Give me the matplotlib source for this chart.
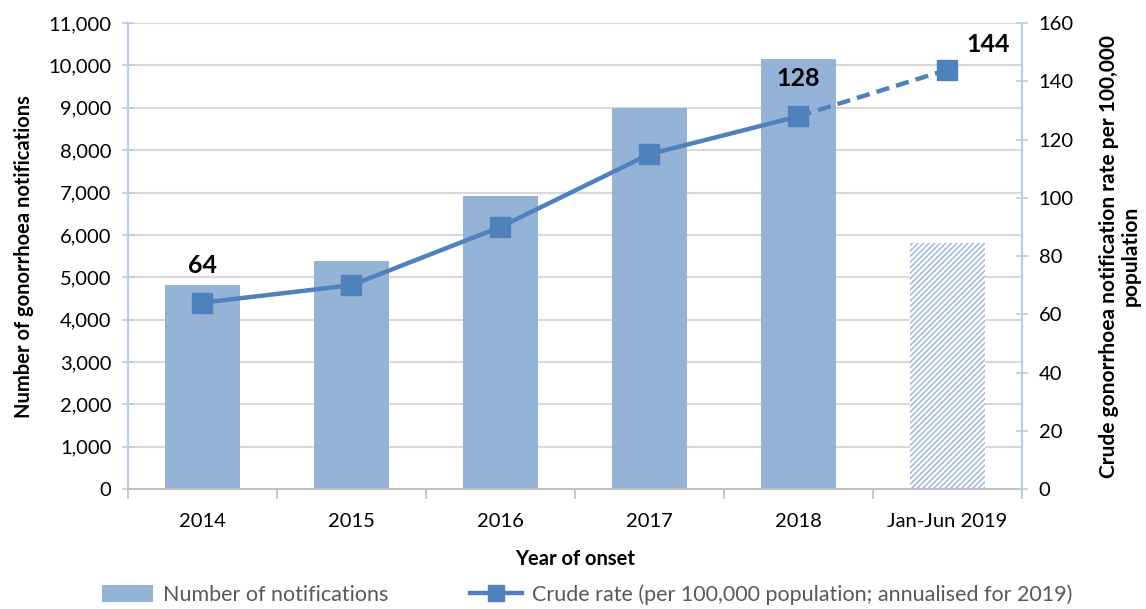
import numpy as np
import matplotlib
matplotlib.use('Agg')
import matplotlib.pyplot as plt
from matplotlib.lines import Line2D
from matplotlib.patches import Patch

plt.rcParams['font.family'] = ['Lato', 'DejaVu Sans']

# --- dane ---
years = ['2014', '2015', '2016', '2017', '2018', 'Jan-Jun 2019']
notifications = [4810, 5380, 6920, 9000, 10150, 5800]
rate = [64, 70, 90, 115, 128, 144]
rate_labels = {0: '64', 4: '128', 5: '144'}

BAR_COLOR = '#95b3d7'
LINE_COLOR = '#4f81bd'
AXIS_BLUE = '#b9cde5'
GRID = '#d9d9d9'
FS = 14.5

fig = plt.figure(figsize=(11.46, 6.09), dpi=100)
ax = fig.add_axes([0.1117, 0.197, 0.78, 0.765])
ax2 = ax.twinx()

x = np.arange(len(years))

# słupki: pełne lata i półrocze 2019 (kreskowane)
ax.bar(x[:-1], notifications[:-1], width=0.5, color=BAR_COLOR, zorder=2)
ax.bar(x[-1], notifications[-1], width=0.5, color='white', edgecolor=BAR_COLOR,
       hatch='//////', linewidth=0, zorder=2)

ax.set_ylim(0, 11000)
ax.set_xlim(-0.5, len(years) - 0.5)
ax.set_yticks(np.arange(0, 11001, 1000))
ax.set_yticklabels([f'{v:,}' for v in range(0, 11001, 1000)])
ax.yaxis.grid(True, color=GRID, linewidth=1.5, zorder=0)
ax.set_axisbelow(True)

ax.set_xticks(x)
ax.set_xticklabels(years)
ax.set_xticks(np.arange(-0.5, len(years), 1), minor=True)
ax.tick_params(axis='x', which='major', length=0, labelsize=FS, pad=17)
ax.tick_params(axis='x', which='minor', length=7, color='#bfbfbf', width=1.2, direction='out')
ax.tick_params(axis='y', length=8, direction='inout', color=AXIS_BLUE, width=1.2,
               labelsize=FS, pad=8)

for s in ['top', 'right']:
    ax.spines[s].set_visible(False)
ax.spines['left'].set_color(AXIS_BLUE)
ax.spines['left'].set_linewidth(1.5)
ax.spines['bottom'].set_color('#bfbfbf')
ax.spines['bottom'].set_linewidth(1.5)

# linia wskaźnika: ciągła do 2018, przerywana do 2019
ax2.plot(x[:-1], rate[:-1], color=LINE_COLOR, linewidth=3.2, zorder=3)
ax2.plot(x[-2:], rate[-2:], color=LINE_COLOR, linewidth=3.2, linestyle=(0, (3, 1.6)), zorder=3)
ax2.plot(x, rate, linestyle='none', marker='s', markersize=15, color=LINE_COLOR, zorder=4)

ax2.set_ylim(0, 160)
ax2.set_yticks(np.arange(0, 161, 20))
ax2.tick_params(axis='y', length=8, direction='inout', color=AXIS_BLUE, width=1.2,
                labelsize=FS, pad=8)
for s in ['top', 'left', 'bottom']:
    ax2.spines[s].set_visible(False)
ax2.spines['right'].set_color(AXIS_BLUE)
ax2.spines['right'].set_linewidth(1.5)

for i, txt in rate_labels.items():
    if i == len(years) - 1:
        ax2.annotate(txt, (x[i], rate[i]), xytext=(14, 18), textcoords='offset points',
                     ha='left', va='center', fontsize=18, fontweight='bold')
    else:
        ax2.annotate(txt, (x[i], rate[i]), xytext=(0, 27), textcoords='offset points',
                     ha='center', va='center', fontsize=18, fontweight='bold')

ax.set_xlabel('Year of onset', fontsize=FS, fontweight='bold', labelpad=14)
ax.set_ylabel('Number of gonorrhoea notifications', fontsize=FS, fontweight='bold', labelpad=10)
ax2.set_ylabel('Crude gonorrhoea notification rate per 100,000\npopulation',
               fontsize=15, fontweight='bold', labelpad=18, linespacing=1.15)

handles = [Patch(facecolor=BAR_COLOR, edgecolor='none'),
           Line2D([], [], color=LINE_COLOR, linewidth=3.2, marker='s', markersize=11)]
fig.legend(handles, ['Number of notifications',
                     'Crude rate (per 100,000 population; annualised for 2019)'],
           loc='lower center', bbox_to_anchor=(0.512, -0.025), ncol=2, frameon=False,
           fontsize=15.5, columnspacing=3.8, handlelength=2.4, handleheight=0.8,
           handletextpad=0.45, labelcolor='#595959')

fig.savefig('out.png', dpi=100)
